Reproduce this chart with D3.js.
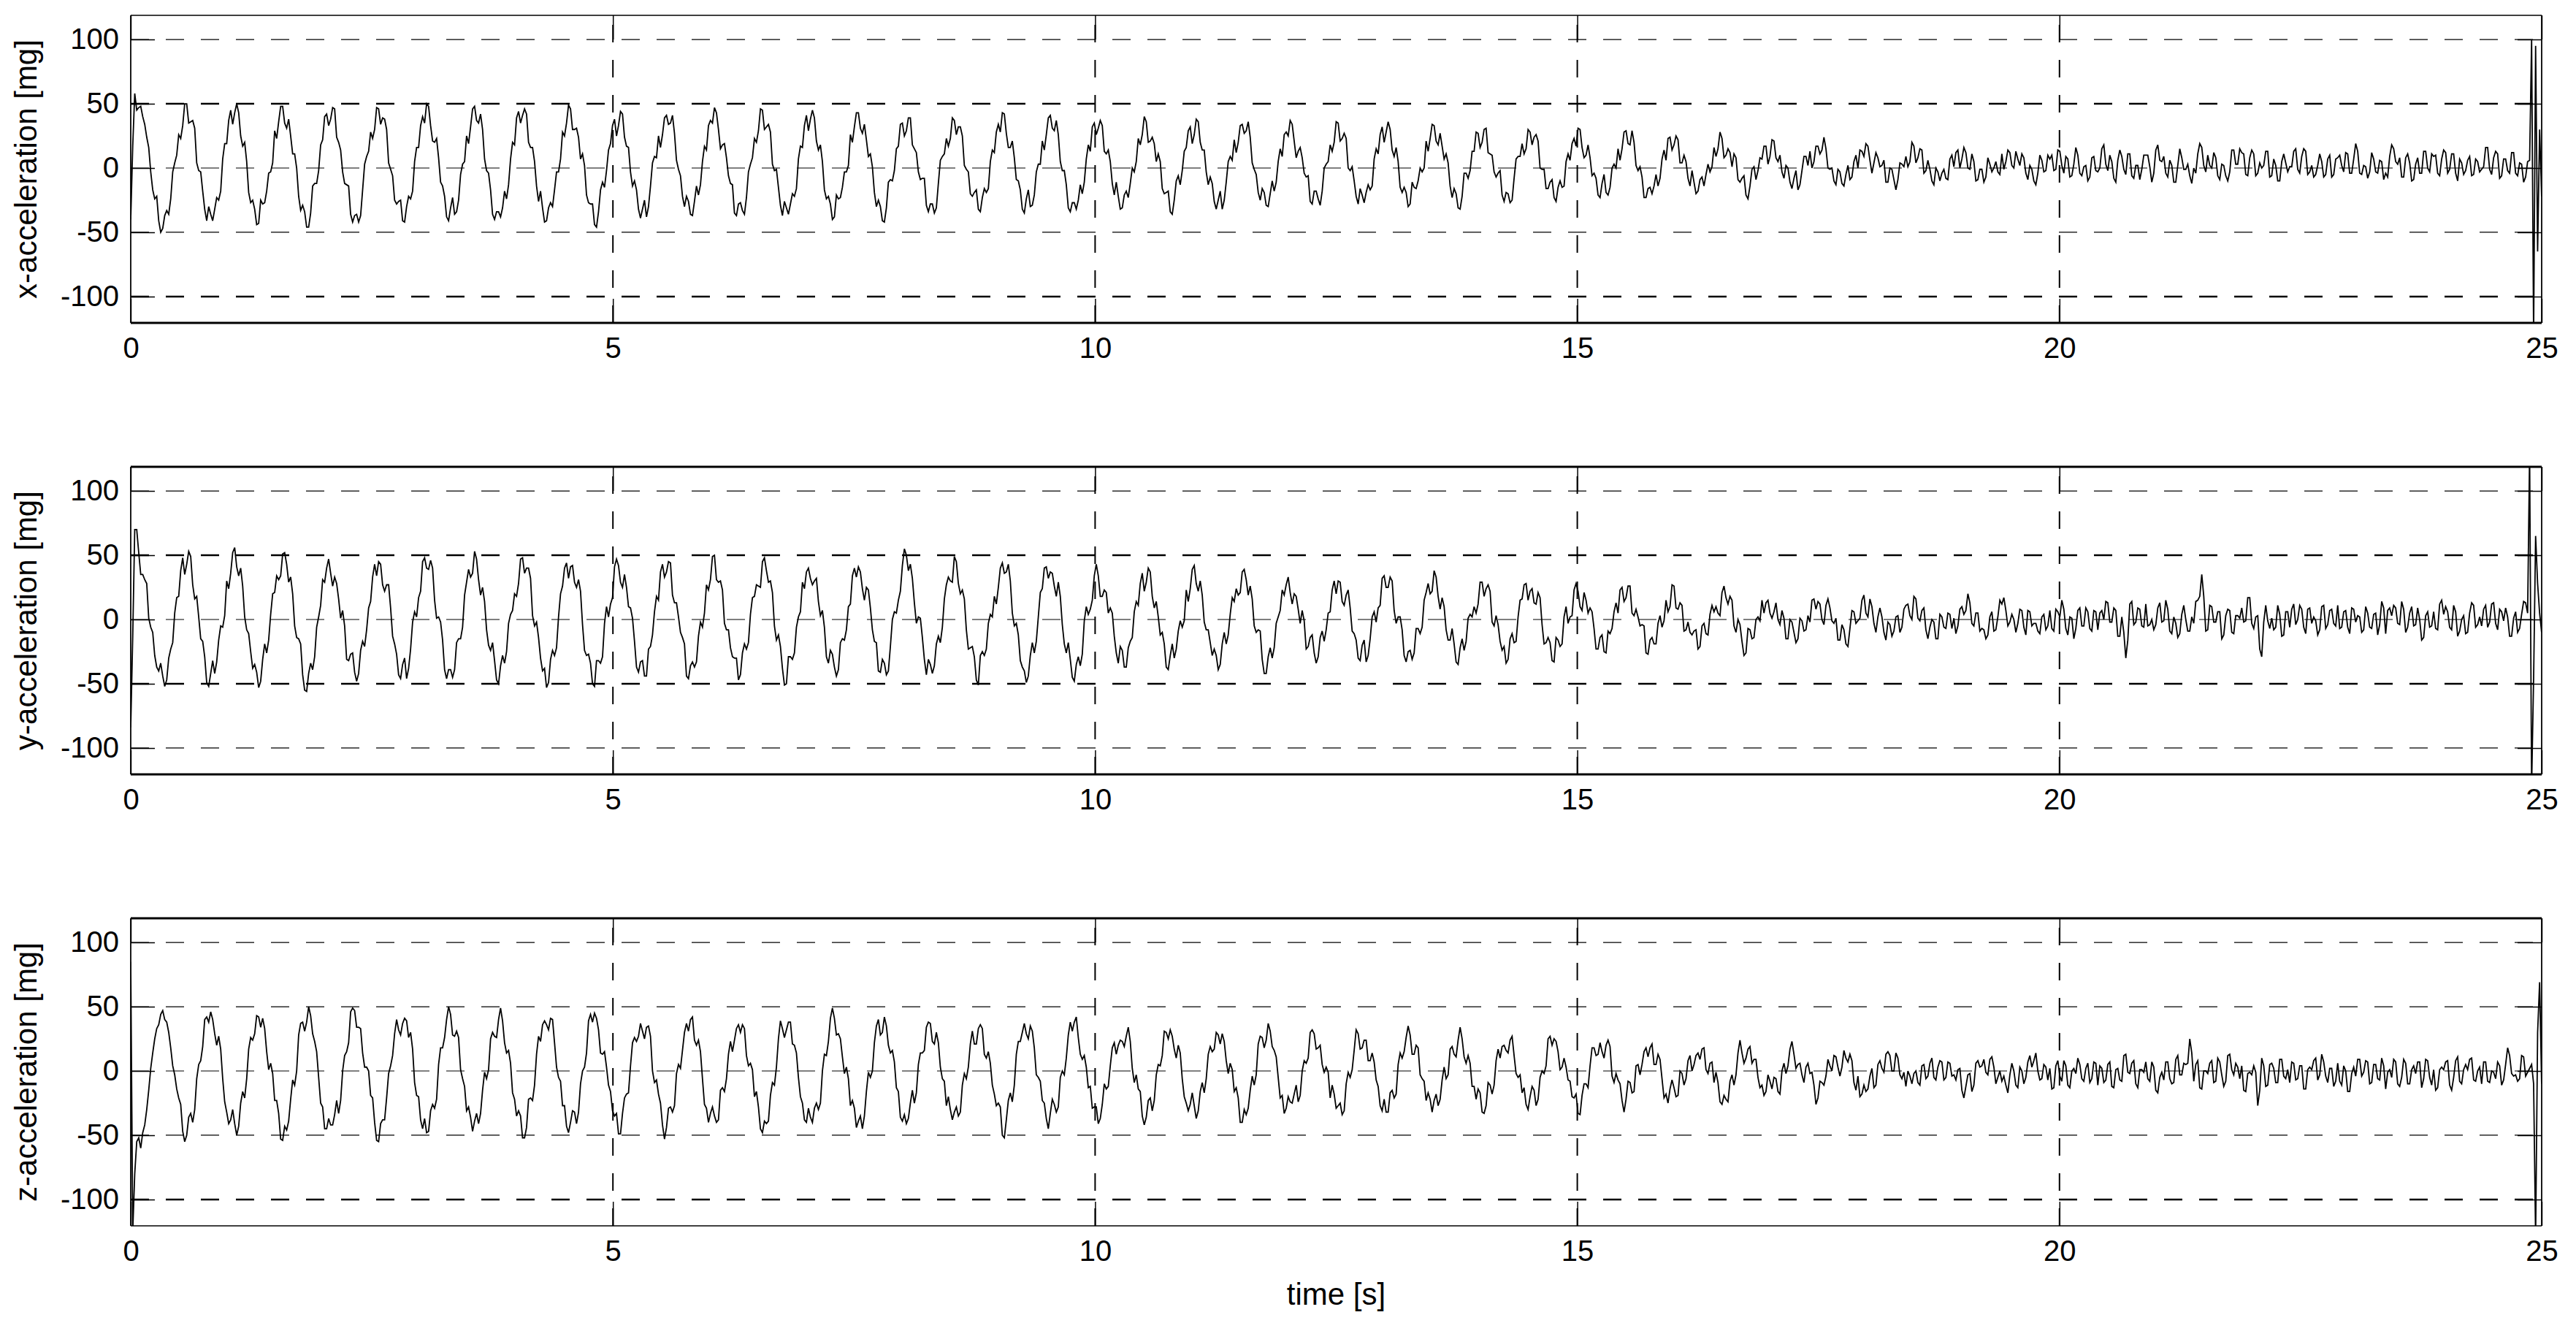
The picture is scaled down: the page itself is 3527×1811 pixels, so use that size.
<!DOCTYPE html>
<html><head><meta charset="utf-8">
<script src="https://cdn.jsdelivr.net/npm/d3@7"></script>
<style>body{margin:0;background:#fff}</style>
</head><body>
<svg id="c" width="3527" height="1811"></svg>
<script>
// sampling period of the series (s): 24 samples per oscillation period of 0.4975 s
const dt = 0.4975 / 24;
const xTicks = [0, 5, 10, 15, 20, 25];
const yTicks = [-100, -50, 0, 50, 100];
const yLabels = ["x-acceleration [mg]", "y-acceleration [mg]", "z-acceleration [mg]"];
const xLabel = "time [s]";

const xAcc = [
-40,17,58,45,47,48,40,34,24,16,-3,-17,-24,-22,-41,-50,-47,-37,-33,-36,-24,-3,4,10,
26,23,33,50,50,35,36,37,31,4,-2,-3,-18,-32,-41,-30,-36,-41,-32,-23,-25,-18,7,19,
19,37,45,34,43,50,43,25,17,20,5,-19,-27,-25,-32,-44,-43,-25,-28,-27,-18,-4,-3,4,
29,23,36,48,48,35,31,38,25,11,11,0,-22,-33,-29,-34,-46,-46,-35,-14,-12,-12,-2,18,
22,40,42,33,38,47,46,24,20,14,-3,-12,-13,-14,-36,-42,-37,-36,-42,-37,-17,3,9,13,
28,23,30,47,46,34,39,38,30,4,-1,-6,-25,-28,-26,-25,-41,-42,-30,-22,-24,-18,5,16,
16,33,40,35,50,48,33,21,20,23,8,-11,-14,-22,-38,-41,-31,-23,-36,-34,-25,-5,3,5,
25,19,32,46,48,37,35,42,30,7,-2,-4,-17,-36,-40,-34,-34,-38,-31,-18,-24,-13,7,20,
18,39,44,35,41,46,42,20,16,16,5,-14,-26,-18,-31,-42,-41,-31,-27,-30,-17,-3,-3,7,
28,25,35,49,46,30,30,31,24,7,11,2,-21,-27,-28,-28,-44,-46,-34,-17,-11,-15,-2,14,
19,33,38,25,33,44,42,24,17,16,-3,-14,-10,-17,-32,-39,-32,-25,-38,-30,-14,4,9,8,
25,16,26,39,41,34,35,41,27,6,-1,-6,-22,-30,-22,-26,-36,-37,-26,-14,-21,-13,5,17,
14,33,37,35,47,43,30,15,18,19,8,-6,-12,-13,-35,-37,-28,-27,-33,-36,-23,-3,3,8,
23,20,29,46,45,30,32,34,28,3,-2,-1,-15,-29,-37,-26,-31,-36,-28,-20,-22,-16,7,17,
16,33,41,29,38,45,39,21,14,18,5,-17,-24,-22,-28,-40,-38,-21,-24,-23,-15,-3,-3,2,
26,20,32,43,43,31,27,34,22,9,11,1,-19,-30,-25,-30,-41,-42,-31,-11,-9,-10,-2,15,
17,34,35,25,29,39,39,18,15,12,-3,-9,-8,-8,-29,-34,-28,-28,-35,-31,-12,6,9,11,
23,17,23,39,37,26,32,32,25,2,-1,-3,-20,-22,-19,-17,-32,-34,-23,-16,-19,-16,5,14,
12,28,34,28,43,42,27,16,16,21,8,-9,-10,-17,-32,-35,-24,-17,-30,-29,-21,-3,3,3,
21,14,26,39,41,31,29,37,26,5,-2,-2,-13,-31,-34,-27,-27,-32,-25,-13,-20,-11,7,18,
13,32,35,26,31,37,33,13,11,14,5,-12,-21,-11,-22,-32,-31,-21,-18,-23,-12,0,-3,5,
23,18,26,40,36,20,21,24,19,5,11,5,-16,-20,-19,-18,-34,-36,-25,-10,-6,-13,-2,13,
16,29,32,19,26,38,36,20,14,14,-3,-13,-7,-12,-26,-32,-25,-18,-32,-25,-11,5,9,6,
22,12,20,33,34,27,29,36,24,4,-1,-5,-19,-25,-16,-19,-29,-30,-20,-10,-18,-11,5,15,
9,26,28,25,37,34,21,8,13,16,8,-4,-7,-6,-26,-28,-18,-18,-24,-29,-18,0,3,5,
18,13,20,36,35,21,23,27,23,0,-2,1,-10,-22,-28,-16,-21,-27,-19,-13,-17,-14,7,15,
11,26,32,20,28,36,30,14,9,16,5,-15,-19,-15,-19,-30,-28,-11,-15,-16,-10,0,-3,0,
21,13,23,34,33,21,18,27,17,7,11,4,-14,-23,-16,-20,-31,-32,-22,-4,-4,-8,-2,13,
13,28,27,16,20,30,31,12,11,10,-3,-7,-4,-2,-21,-26,-19,-20,-27,-25,-8,7,9,9,
19,11,15,30,28,18,24,26,21,0,-1,-1,-16,-16,-11,-9,-23,-26,-15,-10,-15,-14,5,11,
6,19,23,17,31,30,16,8,10,18,8,-6,-4,-8,-21,-23,-12,-5,-19,-21,-15,0,3,0,
15,6,15,28,29,19,18,29,20,2,-2,1,-7,-23,-23,-16,-15,-20,-14,-5,-14,-8,7,14,
6,23,24,14,18,25,22,4,4,10,5,-8,-14,-2,-11,-20,-18,-9,-7,-14,-5,3,-3,1,
16,9,15,28,23,8,10,15,12,1,11,8,-9,-11,-8,-6,-21,-24,-14,-1,1,-9,-2,8,
7,17,17,3,9,22,21,8,5,10,-3,-8,2,0,-11,-16,-8,-2,-17,-13,-2,9,9,2,
13,0,5,17,17,11,14,24,15,0,-1,0,-10,-13,-1,-3,-12,-14,-5,2,-9,-7,5,10,
0,14,13,9,19,17,6,-4,4,12,8,1,2,6,-11,-11,0,-1,-9,-17,-9,4,3,1,
9,1,5,20,17,4,8,15,14,-4,-2,6,-1,-10,-13,0,-3,-10,-4,-1,-8,-9,7,10,
1,12,14,0,7,16,12,0,-1,11,5,-10,-9,-1,-1,-11,-7,8,3,-3,0,5,-3,-5,
11,-1,5,14,12,2,0,13,7,2,11,8,-4,-9,2,-1,-10,-13,-4,10,6,-3,-2,10,
7,10,-2,-1,14,13,2,-4,9,7,-7,-6,3,16,10,-4,-6,1,2,-10,-7,8,9,-2,
-3,0,15,18,3,-2,10,5,-8,-11,6,14,9,-1,-5,11,11,-6,-8,2,2,-9,-1,10,
10,10,1,-11,-4,14,18,6,5,9,-4,-7,6,2,-11,-11,2,15,8,-1,-1,3,-6,-12,
0,-4,11,19,16,2,-3,10,2,0,12,8,-6,-9,3,2,-6,-10,-3,14,14,3,3,15,
12,11,-5,-6,8,14,11,-6,-4,4,0,2,13,13,-7,-6,7,2,-10,-10,5,11,4,-3,
1,1,13,15,-1,-4,9,15,13,-5,-3,2,-7,-5,2,11,5,-7,-5,7,10,-7,-5,7,
8,10,2,-3,12,11,-4,-4,7,19,13,-4,-5,2,1,-8,-3,12,7,-3,-4,6,5,-9,
-4,-7,9,18,15,5,3,8,-7,-7,8,11,4,-10,-9,3,8,-4,-4,13,13,0,-3,11,
9,10,-4,-6,7,14,12,-4,-1,11,11,-4,-10,7,4,-5,-2,6,9,-6,-5,7,5,-3,
-1,1,16,16,-1,-5,8,13,11,-8,-6,7,7,-2,-4,12,12,-4,-6,4,3,-11,-7,5,
6,100,-130,95,-65,30,-22
];

const yAcc = [
-84,-13,70,70,52,35,35,31,28,1,-6,-10,-28,-37,-40,-34,-44,-52,-47,-30,-23,-18,5,17,
18,38,48,35,43,53,49,27,16,18,2,-15,-17,-29,-49,-52,-42,-32,-42,-33,-16,-5,-6,3,
30,24,36,52,56,41,34,40,26,2,-8,-11,-25,-38,-35,-41,-53,-48,-31,-19,-26,-16,4,20,
21,34,31,34,51,52,43,29,33,20,-5,-14,-15,-19,-43,-55,-56,-42,-34,-39,-29,-6,2,11,
31,29,40,47,36,26,33,28,16,1,7,-5,-31,-32,-27,-26,-41,-48,-42,-24,-17,-21,-8,9,
14,33,43,34,45,43,27,22,27,27,9,-13,-19,-27,-43,-46,-35,-30,-46,-38,-23,-2,6,2,
17,22,45,48,40,39,46,40,15,1,2,-2,-16,-39,-46,-39,-39,-45,-39,-18,-15,-15,-6,19,
29,39,33,36,53,47,31,19,25,14,-8,-20,-24,-18,-32,-47,-50,-36,-28,-34,-25,-3,4,7,
20,18,28,47,48,36,40,40,32,3,-5,-2,-14,-30,-40,-38,-53,-49,-31,-24,-28,-22,2,20,
26,40,44,32,41,42,29,25,31,22,-4,-24,-28,-27,-34,-50,-52,-32,-32,-34,-29,-3,10,2,
12,17,41,47,42,29,25,35,25,10,9,1,-17,-37,-41,-33,-32,-44,-44,-23,-21,-12,6,18,
15,37,43,33,37,45,44,19,13,13,2,-10,-14,-19,-44,-46,-36,-33,-37,-33,-13,-2,-6,5,
27,23,31,49,50,31,29,30,23,-3,-8,-8,-22,-29,-30,-30,-47,-43,-26,-19,-23,-18,4,17,
18,27,26,25,45,48,38,29,30,21,-5,-16,-12,-21,-38,-51,-50,-29,-29,-31,-26,-6,2,6,
29,24,37,40,32,27,30,32,14,3,7,-6,-29,-34,-24,-27,-37,-44,-39,-18,-15,-16,-8,10,
12,34,40,33,41,37,24,15,25,23,9,-8,-17,-18,-40,-41,-31,-34,-43,-40,-21,0,6,5,
15,22,42,55,50,38,43,32,13,-3,2,1,-14,-31,-43,-31,-35,-42,-36,-19,-13,-18,-6,16,
27,33,30,29,49,45,28,20,23,16,-8,-23,-22,-21,-29,-47,-51,-28,-25,-28,-23,-3,4,2,
18,12,25,40,44,36,37,43,30,5,-5,-3,-12,-32,-37,-40,-49,-44,-28,-18,-26,-17,2,21,
24,40,41,32,37,36,26,18,29,18,-4,-19,-26,-18,-31,-45,-48,-35,-29,-36,-27,-1,10,4,
8,15,34,43,34,18,18,23,21,5,9,5,-13,-26,-34,-21,-24,-37,-37,-22,-17,-14,6,14,
11,28,36,22,29,40,37,18,9,14,2,-12,-10,-19,-37,-39,-28,-19,-30,-23,-9,-1,-6,-1,
23,14,24,39,42,28,22,30,19,-2,-8,-8,-18,-28,-23,-28,-39,-35,-19,-10,-19,-12,4,17,
14,24,19,21,37,39,31,19,26,16,-5,-10,-8,-9,-31,-42,-42,-29,-22,-30,-22,-3,2,7,
23,19,27,33,21,12,20,18,8,-3,7,-1,-23,-21,-14,-12,-26,-34,-29,-14,-9,-17,-8,5,
6,23,30,20,30,29,14,11,19,23,9,-9,-11,-16,-30,-32,-20,-16,-33,-28,-15,2,6,-2,
9,11,32,34,25,25,33,30,7,-3,2,2,-8,-28,-33,-25,-24,-31,-26,-7,-7,-11,-6,15,
21,28,20,22,38,33,18,8,17,10,-8,-16,-16,-7,-19,-33,-35,-22,-15,-24,-17,1,4,2,
10,5,12,29,29,18,24,27,22,-2,-5,3,-4,-17,-24,-21,-34,-31,-15,-11,-18,-17,2,15,
16,27,28,15,22,24,13,12,21,17,-4,-19,-18,-14,-18,-32,-33,-14,-16,-21,-19,2,10,-3,
2,3,23,28,22,10,7,21,15,5,9,6,-7,-23,-23,-14,-12,-25,-26,-9,-11,-7,6,13,
5,23,25,14,17,26,26,5,3,8,2,-5,-4,-5,-26,-27,-16,-14,-19,-19,-3,3,-6,-1,
15,6,10,27,26,9,8,13,11,-9,-8,-2,-10,-12,-9,-8,-23,-21,-5,-3,-11,-12,4,11,
6,10,5,3,21,26,17,12,18,15,-5,-10,0,-4,-17,-28,-26,-7,-8,-15,-14,0,2,-1,
15,5,13,15,5,1,6,13,0,-4,7,1,-15,-15,0,-2,-10,-18,-15,1,-1,-9,-8,3,
-2,15,16,8,14,12,0,-4,11,16,9,-1,-3,1,-16,-16,-4,-8,-19,-21,-7,7,6,-3,
-1,1,15,19,5,2,16,10,-3,-10,2,9,2,-10,-16,-2,-4,-13,-9,2,3,-10,-6,8,
11,12,3,0,18,16,1,-1,7,9,-8,-15,-6,0,-2,-15,-15,4,2,-6,-7,5,4,-7,
1,-11,-5,8,10,4,7,20,13,-3,-5,5,5,-9,-7,-8,-15,-12,2,6,-9,-8,2,15,
12,17,7,-5,-2,4,0,-10,-3,8,7,-6,-12,7,6,-5,-3,-3,-9,-11,2,4,-8,-5,
7,-7,-9,8,6,2,15,8,-7,-12,2,1,-15,-7,7,9,-5,-5,9,6,-7,-9,7,6,
-8,5,7,0,14,13,-2,-2,9,7,-13,-13,2,-10,-30,-16,12,14,-4,-2,9,8,-5,-6,
12,-5,-4,0,-8,-4,9,13,-2,-1,15,8,-9,-11,2,-3,-14,-11,4,11,0,-9,-9,2,
-3,14,15,18,35,18,-9,-8,11,10,-2,-2,6,6,-15,-12,3,8,7,-10,-11,3,3,1,
9,-2,-1,17,17,-3,-7,2,3,-23,-29,-2,11,-1,-7,1,-8,-6,11,4,-13,-12,6,6,
-6,8,12,-4,0,11,8,-6,-11,8,9,-3,2,-1,-12,-8,10,11,-7,-4,7,8,-3,-5,
11,-7,-6,6,7,-6,-11,9,8,-2,3,2,-10,-8,10,5,-6,-7,4,5,-12,-4,14,9,
-11,7,9,3,11,9,-3,-4,14,8,-10,-6,5,10,-5,-4,9,0,-16,-14,3,6,-6,-5,
6,-7,-8,12,15,4,10,6,-6,-8,11,6,-13,-9,0,3,-11,-10,5,13,11,-6,-4,2,
-5,8,11,-6,-2,12,13,-3,-8,8,6,-1,9,2,-13,-13,1,6,-10,-7,4,14,13,5,
130,-130,-46,65,28,5,-10
];

const zAcc = [
85,-125,-80,-55,-52,-60,-48,-42,-30,-15,2,14,25,33,36,44,47,40,38,30,18,4,-3,-14,
-21,-26,-47,-55,-50,-36,-33,-40,-30,-6,5,8,19,40,42,38,46,40,29,20,27,17,-6,-24,
-32,-41,-38,-30,-41,-50,-43,-25,-16,-21,-6,17,26,24,29,43,42,34,41,33,15,1,6,-2,
-23,-23,-33,-53,-54,-43,-46,-39,-22,-7,-11,0,28,37,38,31,38,50,43,29,23,15,-5,-25,
-28,-45,-45,-37,-42,-42,-34,-23,-33,-23,0,12,15,22,46,49,47,34,34,33,14,3,3,0,
-19,-21,-40,-54,-55,-41,-38,-38,-21,-2,4,12,29,40,32,28,37,41,39,26,30,17,-9,-19,
-20,-38,-45,-37,-48,-47,-31,-26,-29,-22,5,18,18,26,40,50,44,28,27,31,26,1,-6,-12,
-31,-28,-36,-47,-39,-33,-41,-33,-15,-1,-6,1,25,30,27,26,40,49,39,22,14,16,6,-17,
-22,-35,-31,-35,-52,-52,-44,-22,-21,-23,-11,13,27,23,36,39,36,32,41,40,22,3,-5,-8,
-27,-27,-43,-48,-40,-31,-32,-41,-32,-10,0,3,14,39,44,38,45,41,32,14,13,15,3,-11,
-16,-31,-35,-33,-49,-49,-33,-21,-18,-17,4,22,26,23,27,37,31,25,34,35,27,0,-9,-7,
-18,-25,-42,-53,-44,-29,-28,-32,-27,-2,5,2,16,30,37,31,40,42,24,20,24,15,-6,-26,
-29,-40,-33,-28,-35,-40,-38,-15,-13,-16,-6,13,23,15,24,33,36,30,36,33,12,4,6,1,
-20,-16,-28,-45,-48,-39,-41,-39,-19,-9,-11,3,25,39,33,26,32,38,38,21,20,14,-5,-20,
-25,-38,-40,-29,-36,-40,-29,-25,-30,-25,0,13,12,23,41,49,41,28,29,25,11,-2,3,-6,
-27,-23,-29,-44,-39,-35,-45,-35,-16,-1,-5,0,22,35,40,28,30,42,35,20,14,16,7,-13,
-16,-36,-39,-34,-41,-37,-25,-15,-25,-17,5,14,14,16,34,38,37,23,21,30,22,3,-6,-8,
-27,-20,-30,-38,-32,-28,-35,-32,-11,-2,-6,3,21,31,21,21,33,36,33,13,10,15,6,-11,
-18,-27,-25,-28,-50,-52,-38,-23,-17,-24,-11,13,23,23,30,37,29,25,35,31,18,-3,-5,-8,
-23,-25,-37,-45,-33,-22,-26,-32,-28,-5,0,-3,10,28,38,31,38,42,26,13,9,12,3,-13,
-12,-29,-28,-28,-41,-37,-26,-10,-14,-12,4,18,22,13,20,24,23,19,27,34,23,2,-9,-3,
-14,-16,-35,-42,-36,-23,-21,-31,-23,-3,5,4,12,31,30,25,32,27,17,10,20,14,-6,-20,
-25,-31,-26,-17,-27,-37,-31,-16,-9,-17,-6,13,19,15,17,30,28,21,29,23,8,-2,6,1,
-16,-13,-21,-40,-40,-30,-34,-29,-15,-4,-11,-3,21,27,26,18,24,37,31,19,16,11,-5,-21,
-19,-33,-29,-20,-24,-25,-18,-11,-24,-19,0,8,6,10,30,32,29,17,18,20,5,-1,3,-1,
-21,-11,-18,-29,-27,-25,-34,-31,-10,-1,-5,1,16,32,29,17,18,24,24,8,8,14,7,-7,
-12,-27,-31,-22,-32,-32,-17,-15,-21,-18,5,14,10,15,26,35,28,13,13,20,18,-3,-6,-8,
-23,-17,-22,-32,-23,-18,-27,-22,-7,3,-6,-3,17,19,13,11,24,34,25,11,6,12,6,-12,
-12,-22,-14,-17,-32,-33,-27,-9,-11,-18,-11,8,17,10,19,20,16,14,24,27,12,-2,-5,-3,
-17,-13,-26,-30,-20,-12,-15,-27,-22,-5,0,-2,4,25,27,20,25,23,15,1,3,10,3,-7,
-8,-20,-21,-18,-33,-34,-19,-10,-10,-13,4,18,18,12,13,22,15,10,20,24,19,-4,-9,-2,
-7,-10,-23,-32,-22,-8,-9,-17,-16,4,5,-3,5,15,18,11,18,21,5,5,13,9,-6,-21,
-18,-25,-14,-7,-13,-20,-19,0,-2,-11,-6,8,12,0,5,12,14,9,17,18,1,-2,6,7,
-9,-1,-9,-24,-26,-19,-22,-24,-8,-3,-11,-3,14,24,14,6,10,17,19,6,9,9,-5,-13,
-11,-19,-16,-3,-8,-14,-5,-6,-16,-18,0,6,-2,4,17,23,13,2,5,6,-3,-9,3,6,
-2,-1,-11,-26,-21,-8,-9,-11,-4,9,4,0,12,11,3,-4,3,16,10,7,13,8,-9,-15,
-4,-20,-18,-11,-16,-14,-4,2,-13,-11,5,8,2,-1,13,15,12,0,0,14,10,-3,-6,-1,
-12,0,-4,-10,-2,0,-9,-11,4,5,-6,-4,6,10,-5,-7,3,8,7,-7,-5,7,6,-4,
-3,-7,1,2,-15,-21,-12,-3,-2,-16,-11,6,8,3,4,9,-1,-3,9,11,3,-10,-5,0,
-8,-4,-11,-17,-3,6,0,-11,-13,3,0,-10,-5,7,12,3,8,14,0,-7,-6,5,3,-7,
2,-14,-13,4,8,-4,-8,8,4,-11,-13,0,2,-2,10,5,-6,-8,2,6,-9,-6,7,6,
-11,4,2,-9,-7,5,7,-12,-13,1,2,-7,-8,12,13,-1,-2,6,8,-10,-13,1,1,-1,
7,-6,-8,7,3,-15,-17,-5,-1,-7,7,7,-6,-10,-9,9,12,-3,-3,6,5,6,25,14,
-8,5,8,-13,-14,0,0,-2,6,8,-9,-8,10,7,-3,-12,-8,12,13,1,-3,6,3,-6,
4,-15,-16,-2,-1,-3,4,-1,-27,-15,10,4,-12,-11,5,6,2,-9,-9,9,9,-4,-6,1,
-9,7,6,-7,-6,4,4,-14,-14,1,3,1,8,10,-7,-3,13,7,-4,-9,2,2,-12,-8,
6,-8,-11,4,0,-16,-16,-2,3,-4,9,9,-4,-1,8,7,-10,-9,5,5,-6,-7,10,4,
-14,-1,1,-5,9,7,-10,-12,-5,9,6,-10,-10,1,4,-2,7,7,-13,-6,9,8,-5,-11,
1,-15,-13,1,3,1,7,8,-11,-15,-5,8,11,-8,-10,1,5,1,9,10,-7,-8,0,3,
-10,7,7,-8,-9,0,-1,-6,7,4,-11,-7,5,18,12,-2,-4,-3,-8,-6,12,11,-4,-1,
2,5,-10,-130,30,69,-10
];

// ---- layout / style ----
const font = '"Liberation Sans", Arial, Helvetica, sans-serif';
const left = 179, right = 3480, panelH = 421;
const panelTops = [21, 639, 1257];
const yDomain = [-120.5, 118.8];
const hGridW = [[2.4,1.2,1.2,2.4,1.2],[1.2,2.4,1.2,2.4,1.2],[2.4,1.2,1.2,1.2,1.2]];
const borderTopW = [1.5, 3, 3], borderBotW = [3, 3, 1.5];

const svg = d3.select("#c");
svg.append("rect").attr("width",3527).attr("height",1811).attr("fill","#fff");
const x = d3.scaleLinear().domain([0, 25]).range([left, right]);
const series = [xAcc, yAcc, zAcc];

series.forEach((data, k) => {
  const top = panelTops[k], bottom = top + panelH;
  const y = d3.scaleLinear().domain(yDomain).range([bottom, top]);
  const g = svg.append("g");

  svg.append("clipPath").attr("id", "clip" + k).append("rect")
    .attr("x", left).attr("y", top).attr("width", right - left).attr("height", panelH);

  g.selectAll(".hg").data(yTicks).join("line")
    .attr("x1", left).attr("x2", right)
    .attr("y1", d => y(d)).attr("y2", d => y(d))
    .attr("stroke", "#000").attr("stroke-width", (d, i) => hGridW[k][i])
    .attr("stroke-dasharray", "25 23");

  g.selectAll(".vg").data(xTicks.slice(1, -1)).join("line")
    .attr("x1", d => x(d)).attr("x2", d => x(d))
    .attr("y1", bottom).attr("y2", top)
    .attr("stroke", "#000").attr("stroke-width", 2)
    .attr("stroke-dasharray", "24 24");

  const line = d3.line().x((d, i) => x(i * dt)).y(d => y(d));
  g.append("path").datum(data)
    .attr("clip-path", `url(#clip${k})`)
    .attr("d", line).attr("fill", "none")
    .attr("stroke", "#000").attr("stroke-width", 1.8)
    .attr("stroke-linejoin", "miter");

  const fmt = d => String(d);
  const axB = g.append("g").attr("transform", `translate(0,${bottom})`)
    .call(d3.axisBottom(x).tickValues(xTicks).tickSizeInner(-33).tickSizeOuter(0).tickPadding(20).tickFormat(fmt));
  const axT = g.append("g").attr("transform", `translate(0,${top})`)
    .call(d3.axisTop(x).tickValues(xTicks).tickSizeInner(-33).tickSizeOuter(0).tickFormat(""));
  const axL = g.append("g").attr("transform", `translate(${left},0)`)
    .call(d3.axisLeft(y).tickValues(yTicks).tickSizeInner(-33).tickSizeOuter(0).tickPadding(16).tickFormat(fmt));
  const axR = g.append("g").attr("transform", `translate(${right},0)`)
    .call(d3.axisRight(y).tickValues(yTicks).tickSizeInner(-33).tickSizeOuter(0).tickFormat(""));
  [axB, axT, axL, axR].forEach(a => {
    a.select(".domain").remove();
    a.attr("font-size", 40).attr("font-family", font);
    a.selectAll("line").attr("stroke-width", 1.5);
    a.selectAll("text").attr("fill", "#000");
  });

  g.append("line").attr("x1", left).attr("x2", right).attr("y1", top).attr("y2", top)
    .attr("stroke", "#000").attr("stroke-width", borderTopW[k]);
  g.append("line").attr("x1", left).attr("x2", right).attr("y1", bottom).attr("y2", bottom)
    .attr("stroke", "#000").attr("stroke-width", borderBotW[k]);
  g.append("line").attr("x1", left).attr("x2", left).attr("y1", top).attr("y2", bottom)
    .attr("stroke", "#000").attr("stroke-width", 1.8);
  g.append("line").attr("x1", right).attr("x2", right).attr("y1", top).attr("y2", bottom)
    .attr("stroke", "#000").attr("stroke-width", 1.8);

  svg.append("text")
    .attr("transform", `translate(50,${top + panelH / 2}) rotate(-90)`)
    .attr("text-anchor", "middle").attr("font-family", font).attr("font-size", 42)
    .attr("fill", "#000").text(yLabels[k]);
});

svg.append("text").attr("x", (left + right) / 2).attr("y", 1786)
  .attr("text-anchor", "middle").attr("font-family", font).attr("font-size", 42)
  .attr("fill", "#000").text(xLabel);
</script>
</body></html>
